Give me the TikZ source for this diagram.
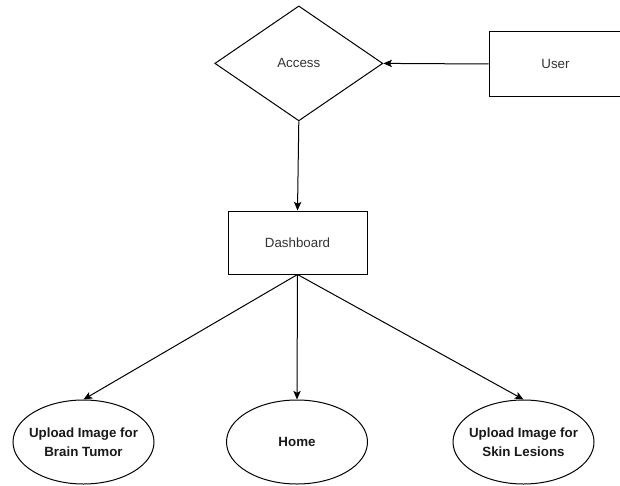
\documentclass[tikz,border=0pt]{standalone}
\usepackage{fontspec}
\setmainfont{Liberation Sans}
\usetikzlibrary{shapes.geometric,arrows.meta}
\begin{document}
\begin{tikzpicture}[x=0.75pt,y=-0.75pt,line width=0.75pt,
  txt/.style={font=\fontsize{10}{12}\selectfont,text=black!80},
  btxt/.style={font=\fontsize{10}{14.25}\selectfont\bfseries,text=black!90,align=center},
  recbox/.style={draw,rectangle,inner sep=0pt,txt},
  diabox/.style={draw,diamond,inner sep=0pt,txt},
  ellbox/.style={draw,ellipse,inner sep=0pt,minimum width=105.75pt,minimum height=63pt},
  arr/.style={-{Stealth[length=6.5pt,width=5.5pt,inset=1.5pt]}}]
\useasboundingbox (0,0) rectangle (620,485);
\fill[white] (0,0) rectangle (620,485);
\node[diabox,minimum width=126pt,minimum height=86.25pt] (acc) at (298.8,63.4) {Access};
\node[recbox,minimum width=99.75pt,minimum height=48pt] (user) at (555.5,64) {User};
\node[recbox,minimum width=104.25pt,minimum height=47.25pt] (dash) at (297.5,242.5) {Dashboard};
\node[ellbox,label={[btxt]center:Upload Image for\\Brain Tumor}] (brain) at (83.5,442) {};
\node[ellbox,label={[btxt]center:Home}] (home) at (297,442) {};
\node[ellbox,label={[btxt]center:Upload Image for\\Skin Lesions}] (skin) at (523.5,442) {};
\draw[arr] (user.west) -- (acc.east);
\draw[arr] (acc.south) -- (dash.north);
\draw[arr] (dash.south) -- (brain.north);
\draw[arr] (dash.south) -- (home.north);
\draw[arr] (dash.south) -- (skin.north);
\end{tikzpicture}
\end{document}
